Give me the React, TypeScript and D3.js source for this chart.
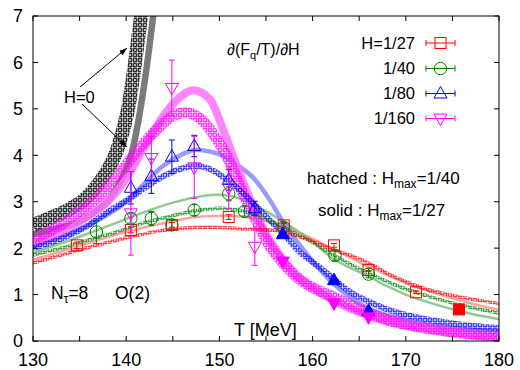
import React from 'react';
import * as d3 from 'd3';

const W = 520;
const H = 370;

const xTicks = [130, 135, 140, 145, 150, 155, 160, 165, 170, 175, 180];
const xLabels = [130, 140, 150, 160, 170, 180];
const yTicks = [0, 1, 2, 3, 4, 5, 6, 7];

const legendLabels = ['H=1/27', '1/40', '1/80', '1/160'];

// data points: [T, value, error]
const pts27 = [[134.7, 2.06, 0.07], [140.5, 2.39, 0.06], [144.9, 2.5, 0.05], [151.0, 2.67, 0.05], [156.9, 2.49, 0.04], [162.3, 2.06, 0.04], [166.0, 1.53, 0.03], [171.1, 1.05, 0.03]];
const filled27 = [[175.7, 0.68]];
const pts40 = [[136.8, 2.35, 0.25], [140.5, 2.64, 0.1], [142.7, 2.64, 0.15], [144.9, 2.5, 0.1], [147.3, 2.82, 0.12], [151.0, 3.17, 0.15], [152.7, 2.79, 0.1], [156.9, 2.45, 0.1], [162.4, 1.84, 0.1], [166.0, 1.44, 0.08]];
const pts80 = [[140.5, 3.3, 0.35], [142.7, 3.55, 0.37], [144.9, 3.97, 0.36], [147.3, 4.2, 0.23], [151.0, 3.47, 0.22], [153.8, 2.86, 0.15]];
const filled80 = [[156.8, 2.3], [162.3, 1.31], [166.0, 0.65]];
const pts160 = [[140.5, 2.75, 0.9], [142.7, 3.94, 0.46], [144.9, 5.45, 0.6], [147.3, 3.74, 0.67], [151.0, 3.3, 0.45], [153.8, 2.03, 0.4]];
const filled160 = [[156.8, 1.71], [162.3, 0.81], [166.0, 0.51]];

// curves: [T, value]
const h0Hatched = [[130, 2.5], [132, 2.66], [134, 2.85], [135.5, 3.05], [137, 3.38], [138.2, 3.75], [139.0, 4.1], [139.6, 4.5], [140.2, 5.0], [140.95, 6.0], [141.6, 7.0], [142.0, 7.6]];
const h0Solid = [[130, 2.3], [132.5, 2.42], [134.7, 2.55], [136.5, 2.76], [138.2, 3.05], [139.5, 3.48], [140.6, 4.05], [141.4, 4.85], [142.2, 5.9], [142.9, 7.0], [143.3, 7.6]];

const h27Hatched = [[130, 1.68], [133, 1.85], [136, 2.02], [140, 2.22], [143, 2.35], [146, 2.43], [149, 2.45], [152, 2.42], [156, 2.38], [158, 2.28], [160, 2.15], [162, 1.98], [164, 1.85], [166, 1.68], [168, 1.46], [170, 1.28], [172, 1.13], [175, 0.98], [178, 0.87], [180, 0.81]];
const h27Solid = [[130, 1.75], [135, 2.05], [140, 2.35], [145, 2.58], [148, 2.68], [151, 2.7], [154, 2.63], [156, 2.52], [158, 2.38], [160, 2.2], [162, 2.0], [164, 1.8], [166, 1.6], [168, 1.42], [170, 1.25], [172, 1.1], [175, 0.92], [178, 0.76], [180, 0.67]];

const h40Hatched = [[130, 1.85], [133, 2.0], [136, 2.18], [139, 2.35], [142, 2.55], [145, 2.7], [148, 2.82], [150, 2.86], [152, 2.82], [154, 2.7], [156, 2.54], [158, 2.33], [160, 2.12], [162, 1.88], [164, 1.66], [166, 1.46], [168, 1.28], [170, 1.12], [173, 0.93], [176, 0.77], [180, 0.6]];
const h40Solid = [[130, 1.9], [133, 2.1], [136, 2.32], [139, 2.55], [142, 2.78], [145, 2.98], [148, 3.12], [150, 3.15], [152, 3.08], [154, 2.9], [156, 2.68], [158, 2.42], [160, 2.14], [162, 1.8], [164, 1.58], [166, 1.39], [168, 1.18], [170, 1.0], [173, 0.8], [176, 0.63], [180, 0.47]];

const h80Hatched = [[130, 2.0], [133, 2.2], [136, 2.5], [138, 2.78], [140, 3.02], [142, 3.3], [144, 3.55], [146, 3.72], [147.5, 3.77], [149, 3.7], [150.5, 3.52], [152, 3.28], [153.8, 2.93], [155.4, 2.6], [157, 2.28], [158.6, 1.92], [160, 1.7], [161, 1.55], [162.3, 1.33], [164, 1.06], [166, 0.85], [168, 0.68], [170, 0.56], [173, 0.44], [176, 0.35], [180, 0.28]];
const h80Solid = [[130, 2.05], [133, 2.25], [136, 2.5], [138, 2.72], [140, 3.0], [142, 3.4], [144, 3.78], [146, 4.02], [147.5, 4.12], [149, 4.08], [150.5, 3.98], [152, 3.78], [153.8, 3.48], [155.4, 3.04], [156.8, 2.57], [158.5, 2.1], [160, 1.72], [162.3, 1.22], [164, 0.95], [166, 0.7], [168, 0.55], [170, 0.45], [173, 0.34], [176, 0.26], [180, 0.2]];

const h160Hatched = [[130, 2.2], [133, 2.5], [135, 2.8], [137, 3.1], [139, 3.55], [141, 4.05], [143, 4.5], [145, 4.85], [146.3, 4.92], [148, 4.78], [149.7, 4.35], [151, 3.9], [152.5, 3.2], [153.8, 2.65], [155.4, 2.05], [157.2, 1.6], [158.6, 1.33], [160, 1.15], [162.3, 0.95], [164, 0.78], [166, 0.6], [168, 0.46], [170, 0.36], [173, 0.25], [176, 0.17], [180, 0.1]];
const h160Solid = [[130, 2.1], [133, 2.35], [136, 2.7], [138, 3.0], [140, 3.5], [142, 4.2], [144, 4.85], [145.5, 5.2], [147.2, 5.4], [149, 5.2], [150.5, 4.5], [152, 3.7], [153.3, 3.05], [155, 2.3], [156.1, 1.96], [158, 1.45], [160, 1.15], [162, 0.9], [164, 0.7], [166, 0.55], [168, 0.42], [170, 0.33], [173, 0.23], [176, 0.15], [180, 0.08]];

const RED = '#ff0000';
const GREEN = '#008000';
const BLUE = '#0000ff';
const MAG = '#ff00ff';
const FONT = '"Liberation Sans", Arial, Helvetica, sans-serif';

const x = d3.scaleLinear().domain([130, 180]).range([33, 499]);
const y = d3.scaleLinear().domain([0, 7]).range([341, 16]);
const line = d3.line<number[]>().x(d => x(d[0])).y(d => y(d[1])).curve(d3.curveMonotoneX);

type Shape = 'square' | 'circle' | 'up' | 'down';

function Marker({ cx, cy, shape, color, filled }: { cx: number; cy: number; shape: Shape; color: string; filled?: boolean }) {
  const fill = filled ? color : 'none';
  if (shape === 'square') return <rect x={cx - 5.5} y={cy - 5.5} width={11} height={11} fill={fill} stroke={color} strokeWidth={1} />;
  if (shape === 'circle') return <circle cx={cx} cy={cy} r={6.2} fill={fill} stroke={color} strokeWidth={1} />;
  if (shape === 'up') return <path d={`M${cx},${cy - 7} L${cx + 6.5},${cy + 4.5} L${cx - 6.5},${cy + 4.5} Z`} fill={fill} stroke={color} strokeWidth={1} />;
  return <path d={`M${cx},${cy + 7} L${cx + 6.5},${cy - 4.5} L${cx - 6.5},${cy - 4.5} Z`} fill={fill} stroke={color} strokeWidth={1} />;
}

function Series({ pts, filled, shape, color }: { pts: number[][]; filled: number[][]; shape: Shape; color: string }) {
  return (
    <g>
      {pts.map((p, i) => {
        const cx = x(p[0]);
        const y1 = y(p[1] + p[2]);
        const y2 = y(p[1] - p[2]);
        return (
          <g key={i}>
            <line x1={cx} x2={cx} y1={y1} y2={y2} stroke={color} strokeWidth={1} />
            <line x1={cx - 3} x2={cx + 3} y1={y1} y2={y1} stroke={color} strokeWidth={1} />
            <line x1={cx - 3} x2={cx + 3} y1={y2} y2={y2} stroke={color} strokeWidth={1} />
            <Marker cx={cx} cy={y(p[1])} shape={shape} color={color} />
          </g>
        );
      })}
      {filled.map((p, i) => (
        <Marker key={'f' + i} cx={x(p[0])} cy={y(p[1])} shape={shape} color={color} filled />
      ))}
    </g>
  );
}

function Pattern({ id, color, sw }: { id: string; color: string; sw: number }) {
  const s = 5;
  const r = 1.5;
  return (
    <pattern id={id} patternUnits="userSpaceOnUse" width={s} height={s}>
      <circle cx={0} cy={0} r={r} fill="none" stroke={color} strokeWidth={sw} />
      <circle cx={s} cy={0} r={r} fill="none" stroke={color} strokeWidth={sw} />
      <circle cx={0} cy={s} r={r} fill="none" stroke={color} strokeWidth={sw} />
      <circle cx={s} cy={s} r={r} fill="none" stroke={color} strokeWidth={sw} />
      <circle cx={s / 2} cy={s / 2} r={r} fill="none" stroke={color} strokeWidth={sw} />
    </pattern>
  );
}

export default function App() {
  const legendColors = [RED, GREEN, BLUE, MAG];
  const legendShapes: Shape[] = ['square', 'circle', 'up', 'down'];
  const legendY = [43, 68.5, 93.5, 118.5];
  return (
    <div style={{ position: 'absolute', left: 0, top: 0 }}>
      <svg width={W} height={H} viewBox={`0 0 ${W} ${H}`} style={{ display: 'block', background: '#fff' }} fontFamily={FONT}>
        <defs>
          <clipPath id="plot">
            <rect x={33} y={16} width={466} height={325} />
          </clipPath>
          <Pattern id="pBlack" color="#000" sw={0.95} />
          <Pattern id="pRed" color={RED} sw={0.85} />
          <Pattern id="pGreen" color={GREEN} sw={0.85} />
          <Pattern id="pBlue" color={BLUE} sw={0.85} />
          <Pattern id="pMag" color={MAG} sw={0.9} />
          <marker id="arr" viewBox="0 0 10 10" refX={10} refY={5} markerWidth={8} markerHeight={8} orient="auto">
            <path d="M0,1.5 L10,5 L0,8.5 Z" fill="#000" />
          </marker>
        </defs>
        <rect width={W} height={H} fill="#fff" />
        <g clipPath="url(#plot)" fill="none" strokeLinecap="butt">
          <path d={line(h0Solid) || ''} stroke="#7a7a7a" strokeWidth={6.5} />
          <path d={line(h27Solid) || ''} stroke="#ff8c8c" strokeOpacity={0.8} strokeWidth={2.5} />
          <path d={line(h40Solid) || ''} stroke="#80bf80" strokeOpacity={0.85} strokeWidth={2.5} />
          <path d={line(h80Solid) || ''} stroke="#7f7fff" strokeOpacity={0.8} strokeWidth={4.5} />
          <path d={line(h160Solid) || ''} stroke="#ff70ff" strokeOpacity={0.85} strokeWidth={8} />
          <path d={line(h0Hatched) || ''} stroke="url(#pBlack)" strokeWidth={14} />
          <path d={line(h160Hatched) || ''} stroke="url(#pMag)" strokeWidth={11} />
          <path d={line(h80Hatched) || ''} stroke="url(#pBlue)" strokeWidth={6} />
          <path d={line(h40Hatched) || ''} stroke="url(#pGreen)" strokeWidth={3.5} />
          <path d={line(h27Hatched) || ''} stroke="url(#pRed)" strokeWidth={3.5} />
        </g>
        <g clipPath="url(#plot)">
          <Series pts={pts27} filled={filled27} shape="square" color={RED} />
          <Series pts={pts40} filled={[]} shape="circle" color={GREEN} />
          <Series pts={pts80} filled={filled80} shape="up" color={BLUE} />
          <Series pts={pts160} filled={filled160} shape="down" color={MAG} />
        </g>
        {/* frame */}
        <rect x={33} y={16} width={466} height={325} fill="none" stroke="#000" strokeWidth={1} />
        {xTicks.map(t => (
          <g key={'xt' + t}>
            <line x1={x(t)} x2={x(t)} y1={341} y2={336} stroke="#000" />
            <line x1={x(t)} x2={x(t)} y1={16} y2={21} stroke="#000" />
          </g>
        ))}
        {yTicks.map(t => (
          <g key={'yt' + t}>
            <line x1={33} x2={38} y1={y(t)} y2={y(t)} stroke="#000" />
            <line x1={499} x2={494} y1={y(t)} y2={y(t)} stroke="#000" />
            <text x={23} y={y(t)} dy="0.36em" textAnchor="end" fontSize={18} fill="#000">{t}</text>
          </g>
        ))}
        {xLabels.map(t => (
          <text key={'xl' + t} x={x(t)} y={360} dy="0.36em" textAnchor="middle" fontSize={18} fill="#000">{t}</text>
        ))}
        {/* title */}
        <text x={227} y={55} fontSize={16} fill="#000">∂(F<tspan fontSize={11} dy={4}>q</tspan><tspan dy={-4}>/T)/∂H</tspan></text>
        {/* legend */}
        {legendLabels.map((l, i) => (
          <g key={'lg' + i}>
            <text x={415} y={legendY[i]} dy="0.36em" textAnchor="end" fontSize={16.5} fill="#000">{l}</text>
            <line x1={426} x2={455} y1={legendY[i]} y2={legendY[i]} stroke={legendColors[i]} />
            <line x1={426} x2={426} y1={legendY[i] - 3} y2={legendY[i] + 3} stroke={legendColors[i]} />
            <line x1={455} x2={455} y1={legendY[i] - 3} y2={legendY[i] + 3} stroke={legendColors[i]} />
            <Marker cx={440.5} cy={legendY[i]} shape={legendShapes[i]} color={legendColors[i]} />
          </g>
        ))}
        <text x={307} y={184} fontSize={17} fill="#000">hatched : H<tspan fontSize={12} dy={4}>max</tspan><tspan dy={-4}>=1/40</tspan></text>
        <text x={318} y={216} fontSize={17} fill="#000">solid : H<tspan fontSize={12} dy={4}>max</tspan><tspan dy={-4}>=1/27</tspan></text>
        <text x={51} y={299} fontSize={17.5} fill="#000">N<tspan fontSize={12} dy={4}>τ</tspan><tspan dy={-4}>=8</tspan></text>
        <text x={115} y={299} fontSize={17.5} fill="#000">O(2)</text>
        <text x={234} y={336} fontSize={18} fill="#000">T [MeV]</text>
        {/* H=0 label and arrows */}
        <text x={64} y={103} fontSize={16.5} fill="#000">H=0</text>
        <line x1={80} y1={87} x2={127} y2={48} stroke="#000" strokeWidth={1} markerEnd="url(#arr)" />
        <line x1={82} y1={104} x2={127} y2={147} stroke="#000" strokeWidth={1} markerEnd="url(#arr)" />
      </svg>
    </div>
  );
}
